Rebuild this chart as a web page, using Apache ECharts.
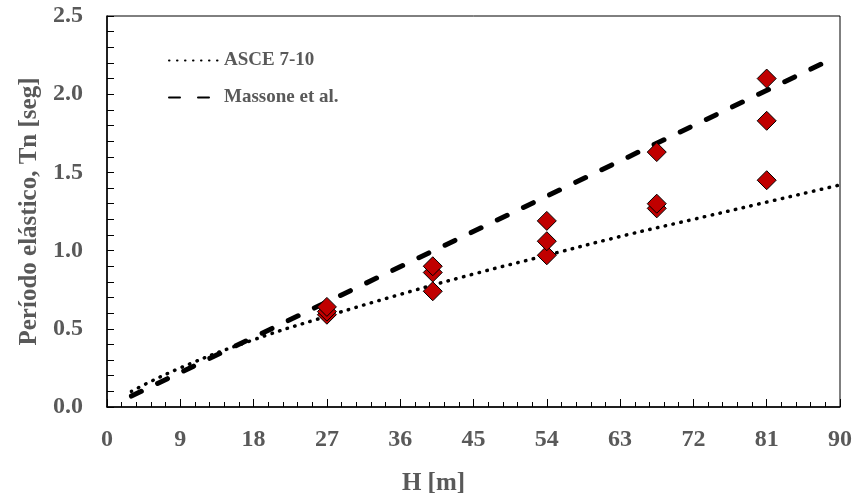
<!DOCTYPE html>
<html>
<head>
<meta charset="utf-8">
<script src="https://cdn.jsdelivr.net/npm/echarts@6/dist/echarts.min.js"></script>
<style>
  html, body { margin: 0; padding: 0; background: #fff; }
  #chart { width: 855px; height: 501px; }
</style>
</head>
<body>
<div id="chart"></div>
<script>
// alturas de edificios [m] y periodos medidos [seg]
const buildingH = [27, 40, 54, 67.5, 81];
const periodLow = [0.59, 0.74, 0.97, 1.27, 1.45];
const periodMid = [0.61, 0.86, 1.06, 1.30, 1.83];
const periodHigh = [0.64, 0.90, 1.19, 1.63, 2.10];

// curva ASCE 7-10
const asceH = [3, 9, 18, 27, 36, 45, 54, 63, 72, 81, 90];
const asceT = [0.10, 0.25, 0.43, 0.58, 0.72, 0.85, 0.97, 1.09, 1.20, 1.31, 1.42];

// recta Massone et al.
const massoneH = [3, 88];
const massoneT = [0.07, 2.2];

const xTicks = [0, 9, 18, 27, 36, 45, 54, 63, 72, 81, 90];
const yTicks = [0, 0.5, 1.0, 1.5, 2.0, 2.5];

const font = 'Liberation Serif, Times New Roman, serif';
const grey = '#595959';

function pairs(xs, ys) {
    let arr = [];
    xs.forEach((x, i) => {
        arr.push([x, ys[i]]);
    });
    return arr;
}

let points = [];
buildingH.forEach((h, i) => {
    points.push([h, periodLow[i]]);
    points.push([h, periodMid[i]]);
    points.push([h, periodHigh[i]]);
});

let myChart = echarts.init(document.getElementById('chart'));
let options = {
    animation: false,
    grid: {
        left: 107,
        right: 15,
        top: 16,
        bottom: 93,
        show: true,
        borderColor: '#000',
        borderWidth: 1
    },
    legend: {
        orient: 'vertical',
        left: 163,
        top: 46,
        itemGap: 18,
        itemWidth: 50,
        itemHeight: 14,
        data: ['ASCE 7-10', 'Massone et al.'],
        itemStyle: { opacity: 0 },
        textStyle: {
            fontFamily: font,
            fontWeight: 'bold',
            fontSize: 19,
            color: grey
        }
    },
    xAxis: {
        type: 'value',
        min: xTicks[0],
        max: xTicks[xTicks.length - 1],
        interval: 9,
        name: 'H [m]',
        nameLocation: 'middle',
        nameGap: 64,
        nameTextStyle: {
            fontFamily: font,
            fontWeight: 'bold',
            fontSize: 25,
            color: grey,
            padding: [0, 80, 0, 0]
        },
        axisLine: { lineStyle: { color: '#000', width: 1.5 } },
        axisTick: { inside: true, length: 8, lineStyle: { color: '#000' } },
        minorTick: { show: true, splitNumber: 5, length: 5, lineStyle: { color: '#000' } },
        splitLine: { show: false },
        axisLabel: {
            margin: 21,
            fontFamily: font,
            fontWeight: 'bold',
            fontSize: 24,
            color: grey
        }
    },
    yAxis: {
        type: 'value',
        min: yTicks[0],
        max: yTicks[yTicks.length - 1],
        interval: 0.5,
        name: 'Período elástico, Tn [seg]',
        nameLocation: 'middle',
        nameGap: 64,
        nameTextStyle: {
            fontFamily: font,
            fontWeight: 'bold',
            fontSize: 25,
            color: grey
        },
        axisLine: { show: true, lineStyle: { color: '#000', width: 1.5 } },
        axisTick: { show: true, inside: true, length: 7, lineStyle: { color: '#000' } },
        minorTick: { show: true, splitNumber: 5, length: 7, lineStyle: { color: '#000' } },
        splitLine: { show: false },
        axisLabel: {
            margin: 24,
            fontFamily: font,
            fontWeight: 'bold',
            fontSize: 24,
            color: grey,
            formatter: v => v.toFixed(1)
        }
    },
    series: [
        {
            name: 'ASCE 7-10',
            type: 'line',
            smooth: true,
            symbol: 'none',
            data: pairs(asceH, asceT),
            itemStyle: { color: '#000' },
            lineStyle: {
                color: '#000',
                width: 3.5,
                type: [0.5, 7.5],
                cap: 'round'
            },
            z: 2
        },
        {
            name: 'Massone et al.',
            type: 'line',
            symbol: 'none',
            data: pairs(massoneH, massoneT),
            itemStyle: { color: '#000' },
            lineStyle: {
                color: '#000',
                width: 5,
                type: [11, 18],
                cap: 'round'
            },
            z: 2
        },
        {
            name: 'Datos',
            type: 'scatter',
            symbol: 'diamond',
            symbolSize: 19,
            data: points,
            itemStyle: {
                color: '#C00000',
                borderColor: '#000',
                borderWidth: 1,
                opacity: 1
            },
            z: 5
        }
    ]
};
myChart.setOption(options);
</script>
</body>
</html>
